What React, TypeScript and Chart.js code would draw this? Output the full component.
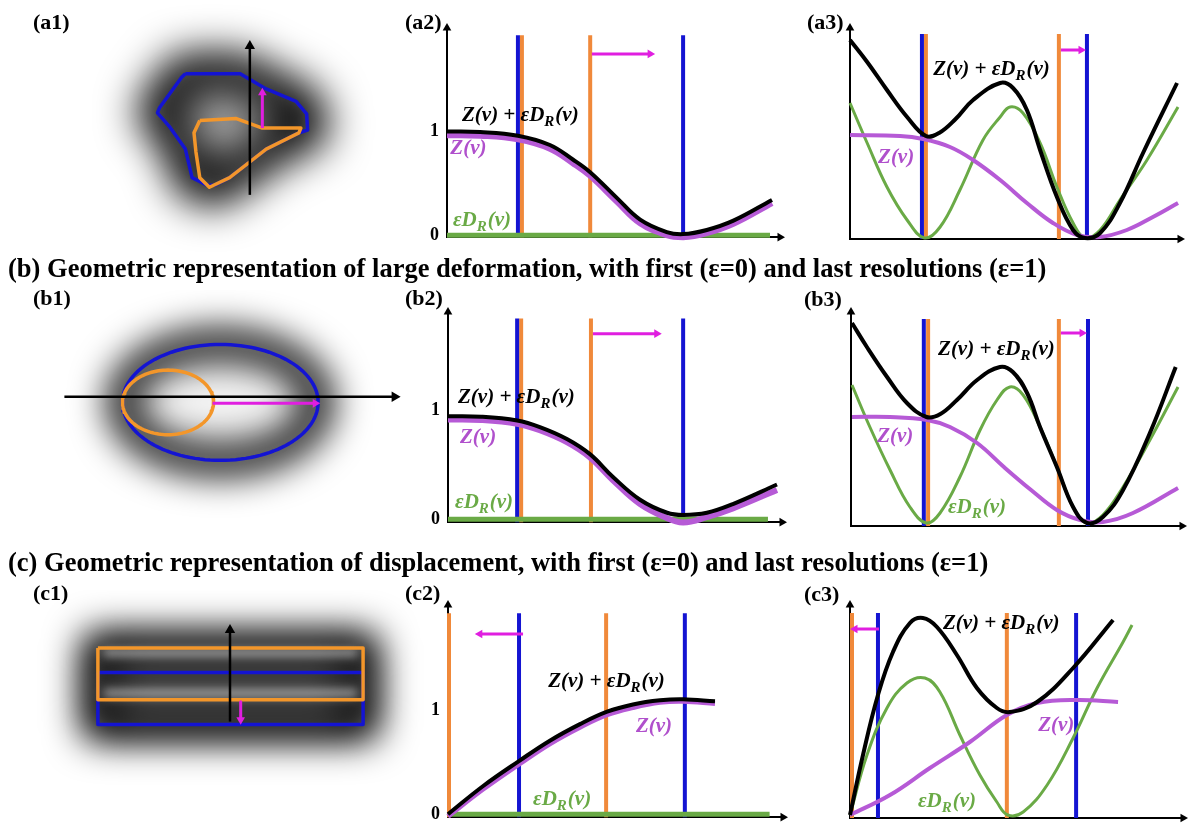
import React, { useEffect, useRef } from 'react';
import { Chart, registerables } from 'chart.js';

Chart.register(...registerables);

const SERIF = '"Liberation Serif", "Times New Roman", serif';
const BLUE = '#1414d2';
const ORANGE = '#f0893a';
const OUTLINE_ORANGE = '#f3962a';
const PURPLE = '#b65ad6';
const PURPLE_TEXT = '#b050cc';
const GREEN = '#6aaa46';
const MAGENTA = '#e01ee0';
const BLACK = '#000000';

// ---------------- headers & panel labels ----------------
const headerB = '(b) Geometric representation of large deformation, with first (ε=0) and last resolutions (ε=1)';
const headerC = '(c) Geometric representation of displacement, with first (ε=0) and last resolutions (ε=1)';
const panelNames = ['(a1)', '(a2)', '(a3)', '(b1)', '(b2)', '(b3)', '(c1)', '(c2)', '(c3)'];

// ---------------- math labels ----------------
type Part = [string, boolean];
const totalText: Part[] = [['Z(v) + εD', false], ['R', true], ['(v)', false]];
const zText: Part[] = [['Z(v)', false]];
const dText: Part[] = [['εD', false], ['R', true], ['(v)', false]];
const yTickValues = [0, 1];

// ---------------- panel (a1) : irregular shape ----------------
const a1BlueX = [124, 181, 208, 239, 250, 251, 242, 208, 170, 154, 147, 131, 128, 124, 108, 95, 97, 120, 124];
const a1BlueY = [71, 71, 87, 100, 113, 130, 133, 150, 180, 188, 188, 180, 167, 150, 127, 112, 107, 75, 71];
const a1OrangeX = [139, 177, 204, 244, 242, 208, 170, 149, 139, 135, 133, 139];
const a1OrangeY = [120, 118, 128, 128, 133, 150, 180, 190, 180, 153, 133, 120];
const a1AxisX = [191, 191];
const a1AxisY = [198, 42];
const a1MoveX = [204, 204];
const a1MoveY = [128, 91];

// ---------------- panel (b1) : ellipses ----------------
const b1BlueEllipse = [180, 112, 101, 61];
const b1OrangeEllipse = [126, 112, 47, 34];
const b1AxisX = [19, 360];
const b1AxisY = [106, 106];
const b1MoveX = [172, 278];
const b1MoveY = [113, 113];

// ---------------- panel (c1) : rectangles ----------------
const c1OrangeRect = [74, 55, 347, 110];
const c1BlueRect = [74, 81, 347, 136];
const c1LightBands = [60, 103];
const c1AxisX = [210, 210];
const c1AxisY = [133, 36];
const c1MoveX = [221, 221];
const c1MoveY = [112, 131];

// ---------------- panel (a2) ----------------
const a2X = [0, 1.0, 2.13, 3.09, 3.78, 4.29, 5.1, 5.8, 6.6, 7.09, 7.8, 8.6, 9.76];
const a2Total = [1.0, 0.995, 0.96, 0.87, 0.73, 0.61, 0.36, 0.15, 0.03, 0.01, 0.05, 0.14, 0.34];
const a2Z = [0.965, 0.96, 0.925, 0.835, 0.695, 0.575, 0.325, 0.115, 0.0, -0.02, 0.02, 0.11, 0.31];
const a2DX = [0, 9.7];
const a2D = [0, 0];
const a2Blue = [2.13, 7.09];
const a2Orange = [2.25, 4.3];
const a2ArrowX = [4.35, 6.1];
const a2ArrowY = [1.75, 1.75];

// ---------------- panel (a3) ----------------
const a3TX = [0, 0.52, 1.12, 1.73, 2.3, 2.7, 3.2, 3.73, 4.55, 4.94, 5.36, 5.76, 6.27, 6.76, 7.12, 7.58, 8.18, 8.88, 9.91];
const a3Total = [1.99, 1.77, 1.49, 1.22, 1.03, 1.06, 1.2, 1.39, 1.56, 1.51, 1.29, 0.89, 0.42, 0.09, 0.01, 0.06, 0.36, 0.86, 1.56];
const a3DX = [0, 0.52, 1.12, 1.73, 2.26, 2.73, 3.33, 4.03, 4.55, 4.85, 5.24, 5.76, 6.27, 6.76, 7.12, 7.58, 8.18, 9.0, 9.94];
const a3D = [1.36, 0.96, 0.52, 0.19, 0.01, 0.12, 0.49, 0.99, 1.22, 1.32, 1.26, 0.96, 0.52, 0.16, 0.01, 0.09, 0.39, 0.79, 1.32];
const a3ZX = [0, 1.52, 2.21, 3.03, 3.73, 4.55, 5.36, 6.15, 6.88, 7.58, 8.39, 9.18, 9.94];
const a3Z = [1.04, 1.03, 1.0, 0.92, 0.79, 0.59, 0.36, 0.16, 0.04, 0.02, 0.09, 0.22, 0.36];
const a3Blue = [2.18, 7.18];
const a3Orange = [2.3, 6.33];
const a3ArrowX = [6.39, 7.0];
const a3ArrowY = [1.89, 1.89];

// ---------------- panel (b2) ----------------
const b2X = [0, 1.0, 2.07, 2.75, 3.56, 4.25, 4.94, 5.75, 6.56, 7.04, 7.75, 8.53, 9.85];
const b2Total = [0.95, 0.945, 0.91, 0.85, 0.74, 0.6, 0.39, 0.18, 0.06, 0.04, 0.06, 0.14, 0.32];
const b2Z = [0.92, 0.915, 0.88, 0.82, 0.71, 0.57, 0.36, 0.14, 0.01, -0.03, 0.02, 0.1, 0.27];
const b2DX = [0, 9.58];
const b2D = [0, 0];
const b2Blue = [2.07, 7.04];
const b2Orange = [2.19, 4.28];
const b2ArrowX = [4.34, 6.25];
const b2ArrowY = [1.71, 1.71];

// ---------------- panel (b3) ----------------
const b3TX = [0.03, 0.48, 1.09, 1.69, 2.28, 2.7, 3.2, 3.81, 4.5, 4.89, 5.32, 5.71, 6.22, 6.71, 7.13, 7.61, 8.22, 9.03, 9.81];
const b3Total = [2.03, 1.79, 1.49, 1.23, 1.09, 1.12, 1.26, 1.46, 1.59, 1.54, 1.33, 0.99, 0.59, 0.19, 0.03, 0.09, 0.36, 0.93, 1.59];
const b3DX = [0.03, 0.57, 1.18, 1.78, 2.28, 2.69, 3.29, 3.9, 4.41, 4.8, 5.2, 5.71, 6.22, 6.71, 7.13, 7.61, 8.22, 9.03, 9.88];
const b3D = [1.41, 0.99, 0.56, 0.19, 0.03, 0.13, 0.49, 0.96, 1.26, 1.39, 1.31, 0.99, 0.59, 0.19, 0.03, 0.11, 0.39, 0.86, 1.39];
const b3ZX = [0.03, 1.18, 2.3, 2.99, 3.81, 4.62, 5.44, 6.22, 6.92, 7.61, 8.52, 9.88];
const b3Z = [1.09, 1.09, 1.06, 0.99, 0.83, 0.59, 0.36, 0.16, 0.06, 0.04, 0.13, 0.38];
const b3Blue = [2.2, 7.16];
const b3Orange = [2.33, 6.28];
const b3ArrowX = [6.34, 6.98];
const b3ArrowY = [1.93, 1.93];

// ---------------- panel (c2) ----------------
const c2X = [0, 1.04, 2.15, 3.04, 3.94, 4.75, 5.52, 6.33, 7.01, 7.97];
const c2Total = [0, 0.27, 0.52, 0.71, 0.87, 0.99, 1.06, 1.1, 1.11, 1.09];
const c2Z = [-0.02, 0.24, 0.49, 0.68, 0.84, 0.96, 1.03, 1.08, 1.09, 1.07];
const c2DX = [0, 9.6];
const c2D = [0, 0];
const c2Blue = [2.12, 7.07];
const c2Orange = [0.03, 4.72];
const c2ArrowX = [2.24, 0.95];
const c2ArrowY = [1.74, 1.74];

// ---------------- panel (c3) ----------------
const c3TX = [0, 0.39, 0.84, 1.29, 1.8, 2.19, 2.61, 3.21, 3.81, 4.41, 4.8, 5.62, 6.7, 7.9];
const c3Total = [0.03, 0.63, 1.23, 1.66, 1.95, 2.0, 1.91, 1.63, 1.3, 1.1, 1.06, 1.16, 1.5, 1.98];
const c3DX = [0, 0.51, 1.11, 1.71, 2.25, 2.7, 3.3, 3.9, 4.41, 4.74, 5.2, 5.92, 6.7, 7.42, 8.2, 8.47];
const c3D = [0.03, 0.63, 1.1, 1.35, 1.4, 1.26, 0.83, 0.43, 0.16, 0.03, 0.06, 0.33, 0.8, 1.3, 1.76, 1.93];
const c3ZX = [0, 1.2, 2.4, 3.6, 4.71, 5.62, 6.82, 8.05];
const c3Z = [0.03, 0.23, 0.5, 0.76, 1.03, 1.15, 1.18, 1.16];
const c3Blue = [0.84, 6.79];
const c3Orange = [0.06, 4.71];
const c3ArrowX = [0.87, 0.15];
const c3ArrowY = [1.89, 1.89];

// ---------------- helpers ----------------
type P = { x: number; y: number };
const pts = (xs: number[], ys: number[]): P[] => xs.map((x, i) => ({ x, y: ys[i] }));
const ellipsePts = (e: number[]): P[] =>
  Array.from({ length: 121 }, (_, i) => {
    const t = (i / 120) * Math.PI * 2;
    return { x: e[0] + e[2] * Math.cos(t), y: e[1] + e[3] * Math.sin(t) };
  });
const rectPts = (r: number[]): P[] => [
  { x: r[0], y: r[1] },
  { x: r[2], y: r[1] },
  { x: r[2], y: r[3] },
  { x: r[0], y: r[3] },
  { x: r[0], y: r[1] },
];

const lineDs = (data: P[], color: string, width: number, order: number, tension = 0): any => ({
  data,
  borderColor: color,
  backgroundColor: color,
  borderWidth: width,
  pointRadius: 0,
  fill: false,
  order,
  clip: false,
  tension,
  borderCapStyle: 'butt',
  borderJoinStyle: 'round',
});

const arrowDs = (data: P[], color: string, width: number, rotation: number, r: number, order = 0): any => ({
  ...lineDs(data, color, width, order),
  pointStyle: 'triangle',
  pointRadius: data.map((_, i) => (i === data.length - 1 ? r : 0)),
  pointRotation: rotation,
  pointBackgroundColor: color,
  pointBorderColor: color,
  pointBorderWidth: 0,
});

// rotation of the arrow head; yDown = true when the y scale is reversed (image panels)
const dirRot = (d: P[], yDown = false) => {
  const a = d[0];
  const b = d[d.length - 1];
  if (Math.abs(b.x - a.x) > Math.abs(b.y - a.y)) return b.x > a.x ? 90 : 270;
  const up = yDown ? b.y < a.y : b.y > a.y;
  return up ? 0 : 180;
};

function haloPlugin(outline: P[], strokeW: number, blur: number, fillAlpha: number, bands: number[] = [], bandX: number[] = []) {
  return {
    id: 'halo',
    beforeDatasetsDraw(chart: any) {
      const { ctx, scales } = chart;
      const sx = scales.x;
      const sy = scales.y;
      ctx.save();
      ctx.filter = `blur(${blur}px)`;
      ctx.beginPath();
      outline.forEach((p, i) => {
        const px = sx.getPixelForValue(p.x);
        const py = sy.getPixelForValue(p.y);
        if (i) ctx.lineTo(px, py);
        else ctx.moveTo(px, py);
      });
      ctx.closePath();
      if (fillAlpha > 0) {
        ctx.fillStyle = `rgba(0,0,0,${fillAlpha})`;
        ctx.fill();
      }
      ctx.lineJoin = 'round';
      ctx.lineWidth = strokeW;
      ctx.strokeStyle = 'rgba(0,0,0,1)';
      ctx.stroke();
      ctx.restore();
      if (bands.length && bandX.length) {
        ctx.save();
        ctx.filter = 'blur(5px)';
        ctx.strokeStyle = 'rgba(255,255,255,0.55)';
        ctx.lineWidth = 8;
        bands.forEach((b) => {
          ctx.beginPath();
          ctx.moveTo(sx.getPixelForValue(bandX[0]), sy.getPixelForValue(b));
          ctx.lineTo(sx.getPixelForValue(bandX[1]), sy.getPixelForValue(b));
          ctx.stroke();
        });
        ctx.restore();
      }
    },
  };
}

function imageConfig(w: number, h: number, datasets: any[], halo: any): any {
  return {
    type: 'line',
    data: { datasets },
    options: {
      animation: false,
      responsive: false,
      events: [],
      layout: { padding: 0 },
      scales: {
        x: { type: 'linear', display: false, min: 0, max: w },
        y: { type: 'linear', display: false, min: 0, max: h, reverse: true },
      },
      plugins: { legend: { display: false }, tooltip: { enabled: false } },
    },
    plugins: [halo],
  };
}

type Label = { parts: Part[]; x: number; y: number; color: string };

function labelsPlugin(labels: Label[]) {
  return {
    id: 'mathLabels',
    afterDatasetsDraw(chart: any) {
      const { ctx, scales } = chart;
      ctx.save();
      ctx.textBaseline = 'middle';
      ctx.textAlign = 'left';
      labels.forEach((l) => {
        let px = scales.x.getPixelForValue(l.x);
        const py = scales.y.getPixelForValue(l.y);
        ctx.fillStyle = l.color;
        l.parts.forEach(([t, sub]) => {
          ctx.font = sub ? `italic bold 15px ${SERIF}` : `italic bold 21px ${SERIF}`;
          ctx.fillText(t, px, sub ? py + 6 : py);
          px += ctx.measureText(t).width + (sub ? 1 : 0);
        });
      });
      ctx.restore();
    },
  };
}

type Curve = { xs: number[]; ys: number[]; color: string; width: number; order: number };
type CurveSpec = {
  yMin: number;
  yMax: number;
  ticks: boolean;
  vTop: number;
  blue: number[];
  orange: number[];
  curves: Curve[];
  arrowX: number[];
  arrowY: number[];
  labels: Label[];
};

const PAD = { left: 55, top: 32, right: 16, bottom: 16 };
const Y_AXIS_W = 40;

function curveConfig(s: CurveSpec): any {
  const datasets: any[] = [];
  s.blue.forEach((x) => datasets.push(lineDs([{ x, y: s.yMin }, { x, y: s.vTop }], BLUE, 4, 20)));
  s.orange.forEach((x) => datasets.push(lineDs([{ x, y: s.yMin }, { x, y: s.vTop }], ORANGE, 4, 20)));
  s.curves.forEach((c) => datasets.push(lineDs(pts(c.xs, c.ys), c.color, c.width, c.order, c.xs.length > 2 ? 0.4 : 0)));
  const arrow = pts(s.arrowX, s.arrowY);
  datasets.push(arrowDs(arrow, MAGENTA, 3, dirRot(arrow), 5, 1));
  // axis arrow heads at the end of each axis
  datasets.push({ ...arrowDs([{ x: 10, y: s.yMin }], BLACK, 0, 90, 5, 0), showLine: false, pointRadius: 5 });
  datasets.push({ ...arrowDs([{ x: 0, y: s.yMax }], BLACK, 0, 0, 5, 0), showLine: false, pointRadius: 5 });
  return {
    type: 'line',
    data: { datasets },
    options: {
      animation: false,
      responsive: false,
      events: [],
      layout: { padding: { ...PAD, left: PAD.left - Y_AXIS_W } },
      scales: {
        x: {
          type: 'linear',
          min: 0,
          max: 10,
          grid: { display: false, drawTicks: false },
          ticks: { display: false },
          border: { display: true, color: BLACK, width: 2 },
          afterFit: (sc: any) => {
            sc.height = 0;
          },
        },
        y: {
          type: 'linear',
          min: s.yMin,
          max: s.yMax,
          grid: { display: false, drawTicks: false },
          ticks: {
            display: s.ticks,
            color: BLACK,
            padding: 8,
            font: { family: SERIF, weight: 'bold', size: 18 },
          },
          afterBuildTicks: (sc: any) => {
            sc.ticks = yTickValues.map((v) => ({ value: v }));
          },
          border: { display: true, color: BLACK, width: 2 },
          afterFit: (sc: any) => {
            sc.width = Y_AXIS_W;
          },
        },
      },
      plugins: { legend: { display: false }, tooltip: { enabled: false } },
    },
    plugins: [labelsPlugin(s.labels)],
  };
}

const L = (parts: Part[], x: number, y: number, color: string): Label => ({ parts, x, y, color });

const specA2: CurveSpec = {
  yMin: -0.02, yMax: 2.0, ticks: true, vTop: 1.93, blue: a2Blue, orange: a2Orange,
  curves: [
    { xs: a2DX, ys: a2D, color: GREEN, width: 5, order: 8 },
    { xs: a2X, ys: a2Z, color: PURPLE, width: 6, order: 6 },
    { xs: a2X, ys: a2Total, color: BLACK, width: 4, order: 4 },
  ],
  arrowX: a2ArrowX, arrowY: a2ArrowY,
  labels: [L(totalText, 0.45, 1.15, BLACK), L(zText, 0.1, 0.84, PURPLE_TEXT), L(dText, 0.18, 0.14, GREEN)],
};
const specA3: CurveSpec = {
  yMin: 0, yMax: 2.11, ticks: false, vTop: 2.05, blue: a3Blue, orange: a3Orange,
  curves: [
    { xs: a3DX, ys: a3D, color: GREEN, width: 3, order: 8 },
    { xs: a3ZX, ys: a3Z, color: PURPLE, width: 4, order: 6 },
    { xs: a3TX, ys: a3Total, color: BLACK, width: 4, order: 4 },
  ],
  arrowX: a3ArrowX, arrowY: a3ArrowY,
  labels: [L(totalText, 2.52, 1.69, BLACK), L(zText, 0.85, 0.81, PURPLE_TEXT)],
};
const specB2: CurveSpec = {
  yMin: -0.027, yMax: 1.91, ticks: true, vTop: 1.85, blue: b2Blue, orange: b2Orange,
  curves: [
    { xs: b2DX, ys: b2D, color: GREEN, width: 5, order: 8 },
    { xs: b2X, ys: b2Z, color: PURPLE, width: 6, order: 6 },
    { xs: b2X, ys: b2Total, color: BLACK, width: 4, order: 4 },
  ],
  arrowX: b2ArrowX, arrowY: b2ArrowY,
  labels: [L(totalText, 0.3, 1.12, BLACK), L(zText, 0.36, 0.75, PURPLE_TEXT), L(dText, 0.21, 0.15, GREEN)],
};
const specB3: CurveSpec = {
  yMin: 0, yMax: 2.14, ticks: false, vTop: 2.07, blue: b3Blue, orange: b3Orange,
  curves: [
    { xs: b3DX, ys: b3D, color: GREEN, width: 3, order: 8 },
    { xs: b3ZX, ys: b3Z, color: PURPLE, width: 4, order: 6 },
    { xs: b3TX, ys: b3Total, color: BLACK, width: 4, order: 4 },
  ],
  arrowX: b3ArrowX, arrowY: b3ArrowY,
  labels: [L(totalText, 2.63, 1.76, BLACK), L(zText, 0.79, 0.89, PURPLE_TEXT), L(dText, 2.93, 0.18, GREEN)],
};
const specC2: CurveSpec = {
  yMin: -0.029, yMax: 2.02, ticks: true, vTop: 1.94, blue: c2Blue, orange: c2Orange,
  curves: [
    { xs: c2DX, ys: c2D, color: GREEN, width: 5, order: 8 },
    { xs: c2X, ys: c2Z, color: PURPLE, width: 5, order: 6 },
    { xs: c2X, ys: c2Total, color: BLACK, width: 4, order: 4 },
  ],
  arrowX: c2ArrowX, arrowY: c2ArrowY,
  labels: [L(totalText, 2.99, 1.28, BLACK), L(zText, 5.61, 0.85, PURPLE_TEXT), L(dText, 2.54, 0.14, GREEN)],
};
const specC3: CurveSpec = {
  yMin: 0, yMax: 2.13, ticks: false, vTop: 2.05, blue: c3Blue, orange: c3Orange,
  curves: [
    { xs: c3DX, ys: c3D, color: GREEN, width: 3, order: 8 },
    { xs: c3ZX, ys: c3Z, color: PURPLE, width: 4, order: 6 },
    { xs: c3TX, ys: c3Total, color: BLACK, width: 4, order: 4 },
  ],
  arrowX: c3ArrowX, arrowY: c3ArrowY,
  labels: [L(totalText, 2.79, 1.94, BLACK), L(zText, 5.65, 0.92, PURPLE_TEXT), L(dText, 2.04, 0.16, GREEN)],
};

// image panel configs
function a1Config() {
  const blue = pts(a1BlueX, a1BlueY);
  const orange = pts(a1OrangeX, a1OrangeY);
  const axis = pts(a1AxisX, a1AxisY);
  const move = pts(a1MoveX, a1MoveY);
  return imageConfig(320, 260, [
    arrowDs(axis, BLACK, 2.5, dirRot(axis, true), 6, 1),
    arrowDs(move, MAGENTA, 3, dirRot(move, true), 5, 2),
    lineDs(orange, OUTLINE_ORANGE, 3.5, 3),
    lineDs(blue, BLUE, 3.5, 4),
  ], haloPlugin(blue, 40, 21, 0.28));
}
function b1Config() {
  const blue = ellipsePts(b1BlueEllipse);
  const orange = ellipsePts(b1OrangeEllipse);
  const axis = pts(b1AxisX, b1AxisY);
  const move = pts(b1MoveX, b1MoveY);
  return imageConfig(380, 240, [
    arrowDs(axis, BLACK, 2.5, dirRot(axis, true), 6, 1),
    arrowDs(move, MAGENTA, 3, dirRot(move, true), 5, 2),
    lineDs(orange, OUTLINE_ORANGE, 3.5, 3),
    lineDs(blue, BLUE, 3.5, 4),
  ], haloPlugin(blue, 30, 18, 0.05));
}
function c1Config() {
  const blue = rectPts(c1BlueRect);
  const orange = rectPts(c1OrangeRect);
  const union = rectPts([c1OrangeRect[0], c1OrangeRect[1], c1BlueRect[2], c1BlueRect[3]]);
  const axis = pts(c1AxisX, c1AxisY);
  const move = pts(c1MoveX, c1MoveY);
  return imageConfig(420, 215, [
    arrowDs(axis, BLACK, 2.5, dirRot(axis, true), 6, 1),
    arrowDs(move, MAGENTA, 3, dirRot(move, true), 5, 2),
    lineDs(orange, OUTLINE_ORANGE, 3.5, 3),
    lineDs(blue, BLUE, 3.5, 4),
  ], haloPlugin(union, 34, 18, 0.7, c1LightBands, [c1OrangeRect[0] + 6, c1OrangeRect[2] - 6]));
}

function ChartBox(props: { left: number; top: number; width: number; height: number; make: () => any }) {
  const ref = useRef<HTMLCanvasElement>(null);
  useEffect(() => {
    const chart = new Chart(ref.current as HTMLCanvasElement, props.make());
    return () => chart.destroy();
  }, []);
  return (
    <canvas
      ref={ref}
      width={props.width}
      height={props.height}
      style={{ position: 'absolute', left: props.left, top: props.top, width: props.width, height: props.height }}
    />
  );
}

function CurveBox(props: { area: [number, number, number, number]; spec: CurveSpec }) {
  const [l, t, r, b] = props.area;
  return (
    <ChartBox
      left={l - PAD.left}
      top={t - PAD.top}
      width={r - l + PAD.left + PAD.right}
      height={b - t + PAD.top + PAD.bottom}
      make={() => curveConfig(props.spec)}
    />
  );
}

const labelPos: [number, number][] = [
  [33, 11], [405, 11], [807, 11],
  [33, 287], [405, 287], [804, 288],
  [33, 582], [405, 582], [804, 583],
];

const headerStyle = (top: number): React.CSSProperties => ({
  position: 'absolute',
  left: 8,
  top,
  font: `bold 26.5px ${SERIF}`,
  lineHeight: '26.5px',
  whiteSpace: 'nowrap',
});

export default function App() {
  return (
    <div style={{ position: 'absolute', left: 0, top: 0, width: 1189, height: 825, overflow: 'hidden', background: '#fff' }}>
      <ChartBox left={60} top={0} width={320} height={260} make={a1Config} />
      <ChartBox left={40} top={290} width={380} height={240} make={b1Config} />
      <ChartBox left={20} top={590} width={420} height={215} make={c1Config} />
      <CurveBox area={[447, 28, 780, 240]} spec={specA2} />
      <CurveBox area={[850, 28, 1180, 239]} spec={specA3} />
      <CurveBox area={[448, 312, 782, 525]} spec={specB2} />
      <CurveBox area={[851, 312, 1182, 526]} spec={specB3} />
      <CurveBox area={[448, 605, 783, 820]} spec={specC2} />
      <CurveBox area={[850, 605, 1183, 818]} spec={specC3} />
      <div style={headerStyle(255)}>{headerB}</div>
      <div style={headerStyle(549)}>{headerC}</div>
      {panelNames.map((n, i) => (
        <div key={n} style={{ position: 'absolute', left: labelPos[i][0], top: labelPos[i][1], font: `bold 22px ${SERIF}`, lineHeight: '22px', whiteSpace: 'nowrap' }}>{n}</div>
      ))}
    </div>
  );
}
